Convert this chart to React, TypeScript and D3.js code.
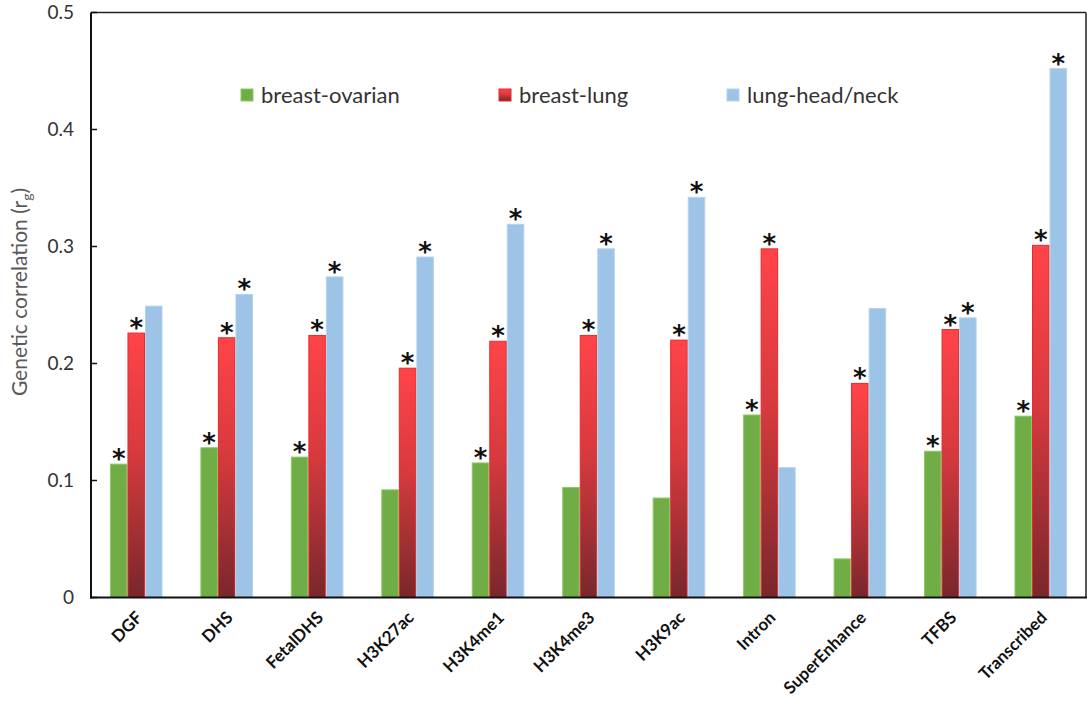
import * as d3 from "d3";

const categories = [
  "DGF",
  "DHS",
  "FetalDHS",
  "H3K27ac",
  "H3K4me1",
  "H3K4me3",
  "H3K9ac",
  "Intron",
  "SuperEnhance",
  "TFBS",
  "Transcribed",
];

const seriesNames = ["breast-ovarian", "breast-lung", "lung-head/neck"];

const breastOvarian = [0.114, 0.128, 0.12, 0.092, 0.115, 0.094, 0.085, 0.156, 0.033, 0.125, 0.155];
const breastLung = [0.226, 0.222, 0.224, 0.196, 0.219, 0.224, 0.22, 0.298, 0.183, 0.229, 0.301];
const lungHeadNeck = [0.249, 0.259, 0.274, 0.291, 0.319, 0.298, 0.342, 0.111, 0.247, 0.239, 0.452];

// significance marks (*)
const starOvarian = [1, 1, 1, 0, 1, 0, 0, 1, 0, 1, 1];
const starLung = [1, 1, 1, 1, 1, 1, 1, 1, 1, 1, 1];
const starHeadNeck = [0, 1, 1, 1, 1, 1, 1, 0, 0, 1, 1];

const yTicks = [0, 0.1, 0.2, 0.3, 0.4, 0.5];

const W = 1092;
const H = 705;
const left = 91;
const right = 1086;
const top = 12.5;
const bottom = 597.5;

const FONT = "Lato, 'Open Sans', sans-serif";

export default function App() {
  const x = d3.scaleBand<string>().domain(categories).range([left, right]).padding(0);
  const inner = d3
    .scaleBand<number>()
    .domain([0, 1, 2])
    .range([0, x.bandwidth()])
    .paddingInner(0)
    .paddingOuter(1.08);
  const y = d3.scaleLinear().domain([0, 0.5]).range([bottom, top]);

  const series = [
    { values: breastOvarian, stars: starOvarian, fill: "#70AD47", stroke: "#8CCB63" },
    { values: breastLung, stars: starLung, fill: "url(#redGrad)", stroke: "#E8292E" },
    { values: lungHeadNeck, stars: starHeadNeck, fill: "#9DC3E6", stroke: "#B4D3EE" },
  ];

  const legendX = [241, 499, 727];

  return (
    <div style={{ position: "fixed", left: 0, top: 0 }}>
      <svg width={W} height={H} style={{ display: "block", background: "#fff" }}>
        <defs>
          <linearGradient id="redGrad" x1="0" y1="0" x2="0" y2="1">
            <stop offset="0" stopColor="#FF4449" />
            <stop offset="0.45" stopColor="#D73A3E" />
            <stop offset="1" stopColor="#78272C" />
          </linearGradient>
        </defs>

        {/* bars */}
        {series.map((s, si) => (
          <g key={si}>
            {categories.map((c, ci) => {
              const bx = (x(c) ?? 0) + (inner(si) ?? 0);
              const bw = inner.bandwidth();
              const yt = y(s.values[ci]);
              return (
                <g key={c}>
                  <rect
                    x={bx + 0.5}
                    y={yt}
                    width={bw - 1}
                    height={bottom - yt}
                    fill={s.fill}
                    stroke={s.stroke}
                    strokeWidth={1}
                  />
                  {s.stars[ci] ? (
                    <text
                      x={bx + bw / 2}
                      y={yt + 4}
                      textAnchor="middle"
                      fontFamily="'DejaVu Sans', sans-serif"
                      fontWeight={700}
                      fontSize={26}
                      fill="#111"
                    >
                      *
                    </text>
                  ) : null}
                </g>
              );
            })}
          </g>
        ))}

        {/* frame */}
        <line x1={left} x2={right} y1={top} y2={top} stroke="#222" strokeWidth={1.5} />
        <line x1={right} x2={right} y1={top} y2={bottom} stroke="#222" strokeWidth={1.5} />
        <line x1={left} x2={left} y1={top} y2={bottom + 1} stroke="#111" strokeWidth={2} />
        <line x1={left - 1} x2={right + 1} y1={bottom} y2={bottom} stroke="#111" strokeWidth={2} />

        {/* y axis */}
        {yTicks.map((t) => (
          <g key={t}>
            <line x1={left} x2={left + 6} y1={y(t)} y2={y(t)} stroke="#111" strokeWidth={1.5} />
            <text
              x={left - 17}
              y={y(t)}
              dy="0.35em"
              textAnchor="end"
              fontFamily={FONT}
              fontSize={19}
              fill="#333"
            >
              {t === 0 ? "0" : d3.format(".1f")(t)}
            </text>
          </g>
        ))}
        <text
          transform={`translate(27, 292) rotate(-90)`}
          textAnchor="middle"
          fontFamily={FONT}
          fontSize={21}
          fill="#595959"
        >
          Genetic correlation (r
          <tspan fontSize={14} dy={5}>
            g
          </tspan>
          <tspan dy={-5}>)</tspan>
        </text>

        {/* x labels */}
        {categories.map((c) => {
          const cx = (x(c) ?? 0) + x.bandwidth() / 2;
          return (
            <text
              key={c}
              transform={`translate(${cx + 3}, ${bottom + 17}) rotate(-45)`}
              textAnchor="end"
              dy="0.35em"
              fontFamily={FONT}
              fontWeight={700}
              fontSize={17}
              fill="#111"
            >
              {c}
            </text>
          );
        })}

        {/* legend */}
        {seriesNames.map((n, i) => (
          <g key={n} transform={`translate(${legendX[i]}, 95)`}>
            <rect
              x={0}
              y={-6}
              width={12}
              height={12}
              fill={series[i].fill}
              stroke={series[i].stroke}
              strokeWidth={1}
            />
            <text x={20} y={0} dy="0.35em" fontFamily={FONT} fontSize={22} fill="#333">
              {n}
            </text>
          </g>
        ))}
      </svg>
    </div>
  );
}
